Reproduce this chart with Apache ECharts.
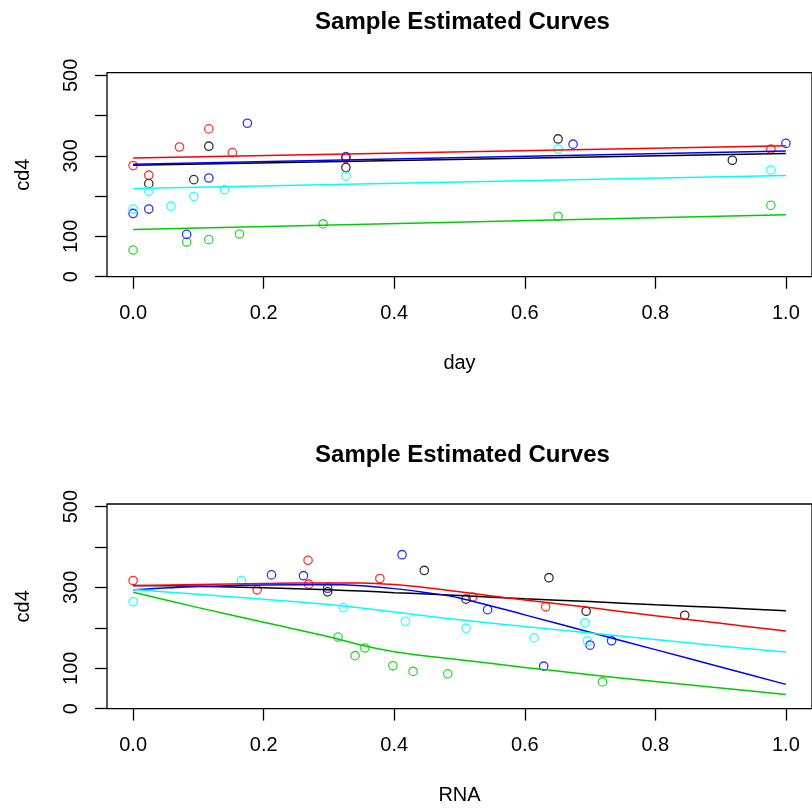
<!DOCTYPE html>
<html>
<head>
<meta charset="utf-8">
<script src="https://cdn.jsdelivr.net/npm/echarts@6/dist/echarts.min.js"></script>
<style>
  html, body { margin: 0; padding: 0; background: #fff; }
  #chart { width: 812px; height: 810px; }
</style>
</head>
<body>
<div id="chart"></div>
<script>
// Subject colours (R classic palette)
const subjectColors = ['#000000', '#FF0000', '#00CD00', '#0000FF', '#00FFFF'];

// Observations per subject: day, RNA and cd4
const dayBlack = [0.024, 0.093, 0.116, 0.326, 0.651, 0.918];
const rnaBlack = [0.845, 0.694, 0.637, 0.510, 0.446, 0.298];
const cd4Black = [231, 241, 324, 271, 342, 289];

const dayRed = [0, 0.024, 0.071, 0.116, 0.152, 0.326, 0.977];
const rnaRed = [0.520, 0.632, 0.378, 0.268, 0.269, 0.190, 0];
const cd4Red = [276, 252, 322, 367, 308, 294, 317];

const dayGreen = [0, 0.082, 0.116, 0.163, 0.291, 0.651, 0.977];
const rnaGreen = [0.719, 0.482, 0.429, 0.398, 0.340, 0.355, 0.314];
const cd4Green = [66, 86, 92, 106, 131, 150, 177];

const dayBlue = [0, 0.024, 0.082, 0.116, 0.175, 0.326, 0.674, 1.0];
const rnaBlue = [0.700, 0.733, 0.629, 0.543, 0.412, 0.298, 0.261, 0.212];
const cd4Blue = [157, 168, 105, 245, 381, 298, 329, 331];

const dayCyan = [0, 0.024, 0.058, 0.093, 0.140, 0.326, 0.651, 0.977];
const rnaCyan = [0.696, 0.692, 0.614, 0.510, 0.417, 0.322, 0.166, 0];
const cd4Cyan = [168, 212, 175, 199, 216, 250, 317, 265];

// Estimated curves over day (straight lines: value at day 0 and day 1)
const dayCurveX = [0, 1];
const dayCurveBlack = [277, 306];
const dayCurveRed = [295, 325];
const dayCurveGreen = [117, 154];
const dayCurveBlue = [279, 312];
const dayCurveCyan = [219, 251];

// Estimated curves over RNA
const rnaCurveX = [0, 0.1, 0.2, 0.3, 0.35, 0.4, 0.45, 0.5, 0.6, 0.7, 0.8, 0.9, 1.0];
const rnaCurveBlack = [305, 303, 299, 294, 291, 287, 284, 280, 272, 265, 257, 250, 242];
const rnaCurveRed = [304, 307, 310, 311, 311, 307, 299, 289, 269, 250, 230, 211, 192];
const rnaCurveGreen = [288, 250, 214, 178, 157, 141, 130, 121, 102, 84, 67, 51, 35];
const rnaCurveBlue = [294, 302, 306, 307, 304, 297, 287, 274, 232, 189, 146, 103, 60];
const rnaCurveCyan = [295, 283, 271, 258, 249, 239, 229, 220, 203, 187, 171, 155, 140];

// Axis ticks and labels
const xTicks = [0, 0.2, 0.4, 0.6, 0.8, 1.0];
const yTicks = [0, 100, 200, 300, 400, 500];
const yTickLabels = [0, 100, 300, 500];

const titleText = 'Sample Estimated Curves';
const xNames = ['day', 'RNA'];
const yName = 'cd4';

const dayObs = [dayBlack, dayRed, dayGreen, dayBlue, dayCyan];
const rnaObs = [rnaBlack, rnaRed, rnaGreen, rnaBlue, rnaCyan];
const cd4Obs = [cd4Black, cd4Red, cd4Green, cd4Blue, cd4Cyan];
const dayCurves = [dayCurveBlack, dayCurveRed, dayCurveGreen, dayCurveBlue, dayCurveCyan];
const rnaCurves = [rnaCurveBlack, rnaCurveRed, rnaCurveGreen, rnaCurveBlue, rnaCurveCyan];

const FONT = 'Liberation Sans, Arial, Helvetica, sans-serif';
const pair = (xs, ys) => xs.map((x, i) => [x, ys[i]]);

const grids = [
  { left: 107, top: 72.7, width: 711, height: 204 },
  { left: 107, top: 504, width: 711, height: 204.6 }
];

function xAxisFor(i) {
  return {
    type: 'value', gridIndex: i, min: -0.04, max: 1.04,
    name: xNames[i], nameLocation: 'middle', nameGap: 77,
    nameTextStyle: { fontFamily: FONT, fontSize: 20, color: '#000' },
    axisLine: { show: false, onZero: false },
    splitLine: { show: false },
    axisTick: { show: true, inside: false, length: 12, customValues: xTicks,
      lineStyle: { color: '#000', width: 1.3 } },
    axisLabel: { show: true, margin: 27, customValues: xTicks,
      fontFamily: FONT, fontSize: 20, color: '#000',
      formatter: v => Number(v).toFixed(1) }
  };
}

function yAxisFor(i) {
  return {
    type: 'value', gridIndex: i, min: 0, max: 506.5,
    name: yName, nameLocation: 'middle', nameGap: 74,
    nameTextStyle: { fontFamily: FONT, fontSize: 20, color: '#000' },
    axisLine: { show: false, onZero: false },
    splitLine: { show: false },
    axisTick: { show: true, inside: false, length: 12, customValues: yTicks,
      lineStyle: { color: '#000', width: 1.3 } },
    axisLabel: { show: true, margin: 26, rotate: 90, customValues: yTickLabels,
      fontFamily: FONT, fontSize: 20, color: '#000' }
  };
}

const series = [];
[0, 1].forEach(g => {
  const xs = g === 0 ? dayObs : rnaObs;
  subjectColors.forEach((c, s) => {
    series.push({
      type: 'scatter', xAxisIndex: g, yAxisIndex: g,
      data: pair(xs[s], cd4Obs[s]),
      symbol: 'circle', symbolSize: 8.4,
      itemStyle: { color: 'rgba(0,0,0,0)', borderColor: c, borderWidth: 1.3 },
      silent: true, z: 2
    });
  });
  subjectColors.forEach((c, s) => {
    series.push({
      type: 'line', xAxisIndex: g, yAxisIndex: g,
      data: g === 0 ? pair(dayCurveX, dayCurves[s]) : pair(rnaCurveX, rnaCurves[s]),
      showSymbol: false, symbol: 'none', smooth: g === 0 ? false : 0.3,
      lineStyle: { color: c, width: 1.5 },
      silent: true, z: 3
    });
  });
});

const chart = echarts.init(document.getElementById('chart'), null, { renderer: 'canvas' });
chart.setOption({
  animation: false,
  backgroundColor: '#ffffff',
  title: [
    { text: titleText, left: 457.5, top: 5, textAlign: 'center',
      textStyle: { fontFamily: FONT, fontSize: 24, fontWeight: 'bold', color: '#000' } },
    { text: titleText, left: 457.5, top: 438, textAlign: 'center',
      textStyle: { fontFamily: FONT, fontSize: 24, fontWeight: 'bold', color: '#000' } }
  ],
  grid: grids.map(g => Object.assign({ show: true, borderColor: '#000', borderWidth: 1.3,
    backgroundColor: 'transparent', containLabel: false }, g)),
  xAxis: [xAxisFor(0), xAxisFor(1)],
  yAxis: [yAxisFor(0), yAxisFor(1)],
  series: series
});
</script>
</body>
</html>
